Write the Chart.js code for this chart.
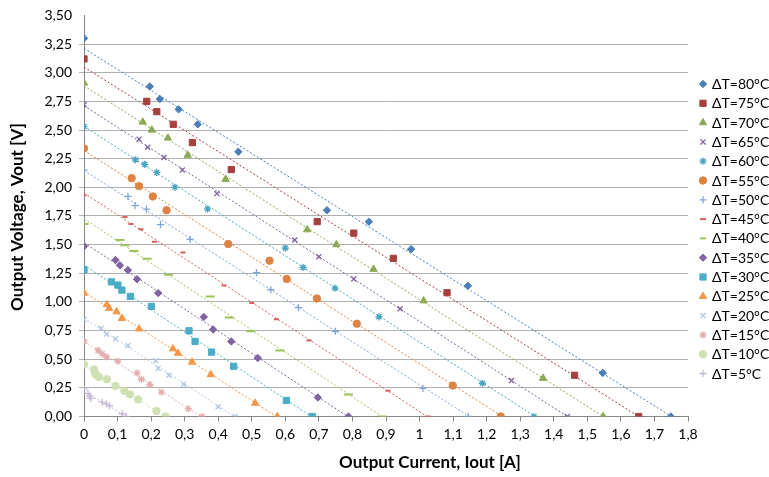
<!DOCTYPE html>
<html><head><meta charset="utf-8">
<script src="https://cdn.jsdelivr.net/npm/chart.js@4.4.1/dist/chart.umd.min.js"></script>
<style>html,body{margin:0;padding:0;background:#fff}#wrap{width:769px;height:477px}</style>
</head><body><div id="wrap"><canvas id="c" width="769" height="477"></canvas></div>
<script>
// ---- Data (Output Current [A] / Output Voltage [V]) ----
const seriesLabels = ['ΔT=80°C','ΔT=75°C','ΔT=70°C','ΔT=65°C','ΔT=60°C','ΔT=55°C','ΔT=50°C','ΔT=45°C','ΔT=40°C','ΔT=35°C','ΔT=30°C','ΔT=25°C','ΔT=20°C','ΔT=15°C','ΔT=10°C','ΔT=5°C'];
const i80 = [0, 0.196, 0.226, 0.282, 0.339, 0.46, 0.724, 0.849, 0.975, 1.144, 1.546, 1.749];
const v80 = [3.30, 2.88, 2.77, 2.68, 2.55, 2.31, 1.80, 1.70, 1.46, 1.14, 0.38, 0.00];
const i75 = [0, 0.187, 0.217, 0.266, 0.323, 0.439, 0.695, 0.804, 0.922, 1.082, 1.462, 1.653];
const v75 = [3.12, 2.75, 2.66, 2.55, 2.39, 2.155, 1.70, 1.60, 1.38, 1.08, 0.36, 0.00];
const i70 = [0, 0.175, 0.202, 0.25, 0.309, 0.422, 0.665, 0.752, 0.863, 1.012, 1.368, 1.547];
const v70 = [2.91, 2.57, 2.50, 2.43, 2.28, 2.07, 1.63, 1.50, 1.285, 1.01, 0.334, 0.00];
const i65 = [0, 0.164, 0.19, 0.238, 0.293, 0.396, 0.628, 0.70, 0.804, 0.942, 1.274, 1.441];
const v65 = [2.72, 2.42, 2.35, 2.26, 2.15, 1.945, 1.54, 1.395, 1.20, 0.94, 0.314, 0.00];
const i60 = [0, 0.153, 0.181, 0.217, 0.271, 0.368, 0.60, 0.653, 0.748, 0.879, 1.187, 1.341];
const v60 = [2.53, 2.24, 2.20, 2.13, 2.00, 1.81, 1.47, 1.30, 1.12, 0.87, 0.29, 0.00];
const i55 = [0, 0.142, 0.164, 0.205, 0.246, 0.43, 0.553, 0.604, 0.694, 0.813, 1.099, 1.242];
const v55 = [2.34, 2.08, 2.01, 1.92, 1.80, 1.505, 1.36, 1.20, 1.03, 0.81, 0.27, 0.00];
const i50 = [0, 0.131, 0.152, 0.186, 0.228, 0.316, 0.514, 0.557, 0.639, 0.749, 1.01, 1.145];
const v50 = [2.15, 1.92, 1.84, 1.81, 1.675, 1.545, 1.256, 1.106, 0.95, 0.744, 0.245, 0.00];
const i45 = [0, 0.122, 0.14, 0.17, 0.21, 0.295, 0.417, 0.50, 0.573, 0.671, 0.906, 1.025];
const v45 = [1.93, 1.74, 1.68, 1.635, 1.525, 1.43, 1.143, 0.99, 0.848, 0.664, 0.224, 0.00];
const i40 = [0, 0.107, 0.122, 0.149, 0.188, 0.252, 0.376, 0.433, 0.497, 0.584, 0.788, 0.889];
const v40 = [1.68, 1.54, 1.495, 1.444, 1.377, 1.236, 1.048, 0.863, 0.744, 0.577, 0.193, 0.00];
const i35 = [0, 0.094, 0.107, 0.131, 0.158, 0.221, 0.357, 0.385, 0.439, 0.518, 0.697, 0.788];
const v35 = [1.485, 1.366, 1.32, 1.277, 1.198, 1.077, 0.869, 0.759, 0.655, 0.51, 0.166, 0.00];
const i30 = [0, 0.082, 0.101, 0.113, 0.138, 0.201, 0.313, 0.331, 0.38, 0.446, 0.603, 0.68];
const v30 = [1.28, 1.175, 1.147, 1.103, 1.048, 0.961, 0.748, 0.655, 0.562, 0.438, 0.14, 0.00];
const i25 = [0, 0.068, 0.075, 0.097, 0.113, 0.164, 0.265, 0.28, 0.322, 0.378, 0.51, 0.576];
const v25 = [1.077, 0.976, 0.944, 0.915, 0.857, 0.765, 0.591, 0.553, 0.475, 0.366, 0.117, 0.00];
const i20 = [0, 0.051, 0.067, 0.094, 0.131, 0.214, 0.221, 0.253, 0.297, 0.40, 0.451];
const v20 = [0.846, 0.77, 0.718, 0.678, 0.62, 0.487, 0.42, 0.36, 0.282, 0.085, 0.00];
const i15 = [0, 0.042, 0.054, 0.067, 0.101, 0.158, 0.171, 0.196, 0.231, 0.311, 0.352];
const v15 = [0.657, 0.577, 0.548, 0.519, 0.484, 0.38, 0.325, 0.279, 0.212, 0.068, 0.00];
const i10 = [0, 0.03, 0.033, 0.038, 0.045, 0.068, 0.094, 0.12, 0.137, 0.161, 0.216, 0.243];
const v10 = [0.455, 0.41, 0.377, 0.357, 0.345, 0.325, 0.267, 0.224, 0.193, 0.149, 0.048, 0.00];
const i5  = [0, 0.012, 0.017, 0.02, 0.054, 0.067, 0.076, 0.114, 0.126];
const v5  = [0.239, 0.2, 0.178, 0.158, 0.126, 0.111, 0.094, 0.024, 0.00];

const currents = [i80,i75,i70,i65,i60,i55,i50,i45,i40,i35,i30,i25,i20,i15,i10,i5];
const voltages = [v80,v75,v70,v65,v60,v55,v50,v45,v40,v35,v30,v25,v20,v15,v10,v5];

const xTitle = 'Output Current, Iout [A]';
const yTitle = 'Output Voltage, Vout [V]';

// ---- Styles ----
const colors = ['#4A7EBB','#A5403D','#8CA852','#7E62A0','#46A4C0','#DE8342',
                '#7FA6DA','#DA5F5C','#9DC35C','#8064A2','#4BACC6','#F79646',
                '#B0C6E2','#E3AEAD','#CFE0B2','#C6B9D8'];
const markers = ['rectRot','rect','triangle','crossRot','star','circle','cross','line','line',
                 'rectRot','rect','triangle','crossRot','star','circle','cross'];
const markerSizes = [3.7,4.4,4.2,3.6,3.6,3.7,3.6,2.5,4.5,3.7,4.4,4.2,3.6,3.6,3.7,3.6];
const strokeOnly = s => ['crossRot','star','cross','line'].includes(s);
const FONT = 'Lato, "Open Sans", sans-serif';

function fit(xs, ys){
  const n = xs.length;
  let sx=0, sy=0, sxx=0, sxy=0;
  for(let k=0;k<n;k++){ sx+=xs[k]; sy+=ys[k]; sxx+=xs[k]*xs[k]; sxy+=xs[k]*ys[k]; }
  const b = (n*sxy - sx*sy)/(n*sxx - sx*sx);
  const a = (sy - b*sx)/n;
  return {a,b};
}

const datasets = [];
seriesLabels.forEach((lab, s) => {
  const xs = currents[s], ys = voltages[s];
  const {a,b} = fit(xs, ys);
  const x0 = Math.min(...xs), x1 = Math.max(...xs);
  datasets.push({
    label: 'trend ' + lab,
    data: [{x:x0, y:a+b*x0},{x:x1, y:a+b*x1}],
    showLine: true, pointRadius: 0, borderColor: colors[s], borderWidth: 1,
    borderDash: [2,2], fill: false, order: 2
  });
});
seriesLabels.forEach((lab, s) => {
  const xs = currents[s], ys = voltages[s];
  const st = markers[s];
  datasets.push({
    label: lab,
    data: xs.map((x,k)=>({x, y: ys[k]})),
    showLine: false,
    pointStyle: st,
    pointRadius: markerSizes[s],
    pointBackgroundColor: colors[s],
    pointBorderColor: colors[s],
    pointBorderWidth: st==='line' ? 2 : (strokeOnly(st) ? 1.3 : 1),
    order: 1
  });
});

const overlay = {
  id: 'overlay',
  afterDraw(chart){
    const ctx = chart.ctx;
    ctx.save();
    ctx.fillStyle = '#000';
    ctx.font = 'bold 17px ' + FONT;
    ctx.textAlign = 'center';
    ctx.textBaseline = 'middle';
    ctx.fillText(xTitle, 430, 463);
    ctx.save();
    ctx.translate(18, 217);
    ctx.rotate(-Math.PI/2);
    ctx.fillText(yTitle, 0, 0);
    ctx.restore();
    // legend
    ctx.font = '14px ' + FONT;
    ctx.textAlign = 'left';
    seriesLabels.forEach((lab, s) => {
      const y = 84 + s*19.3;
      const st = markers[s];
      ctx.fillStyle = colors[s];
      ctx.strokeStyle = colors[s];
      ctx.lineWidth = st==='line' ? 2 : (strokeOnly(st) ? 1.3 : 1);
      const opts = {pointStyle: st, radius: st==='line' ? 3 : markerSizes[s], rotation: 0, borderWidth: ctx.lineWidth};
      if (Chart.helpers && Chart.helpers.drawPoint) {
        Chart.helpers.drawPoint(ctx, opts, 703, y);
      } else {
        ctx.beginPath(); ctx.arc(703, y, 3, 0, Math.PI*2); ctx.fill();
      }
      ctx.fillStyle = '#000';
      ctx.fillText(lab, 712, y + 0.5);
    });
    ctx.restore();
  }
};

new Chart(document.getElementById('c'), {
  type: 'scatter',
  data: { datasets },
  options: {
    responsive: false,
    animation: false,
    devicePixelRatio: 1,
    layout: { padding: { left: 0, right: 81, top: 13, bottom: 0 } },
    plugins: { legend: { display: false }, tooltip: { enabled: false } },
    scales: {
      x: {
        type: 'linear', min: 0, max: 1.8,
        afterFit: s => { s.height = 60.5; },
        ticks: {
          stepSize: 0.1, autoSkip: false, maxRotation: 0, minRotation: 0,
          color: '#000', font: { family: FONT, size: 14 }, padding: 5,
          callback: v => { const r = Math.round(v*10)/10; return String(r).replace('.', ','); }
        },
        grid: { drawOnChartArea: false, drawTicks: true, tickLength: 5, color: '#868686' },
        border: { color: '#868686', width: 1 }
      },
      y: {
        type: 'linear', min: 0, max: 3.5,
        afterFit: s => { s.width = 84; },
        ticks: {
          stepSize: 0.25, color: '#000', font: { family: FONT, size: 14 }, padding: 7,
          callback: v => v.toFixed(2).replace('.', ',')
        },
        grid: {
          color: ctx => (ctx.tick && ctx.tick.value >= 3.49) ? 'rgba(0,0,0,0)' : '#B0B0B0',
          tickLength: 5, drawTicks: true
        },
        border: { color: '#868686', width: 1 }
      }
    }
  },
  plugins: [overlay]
});
</script>
</body></html>
